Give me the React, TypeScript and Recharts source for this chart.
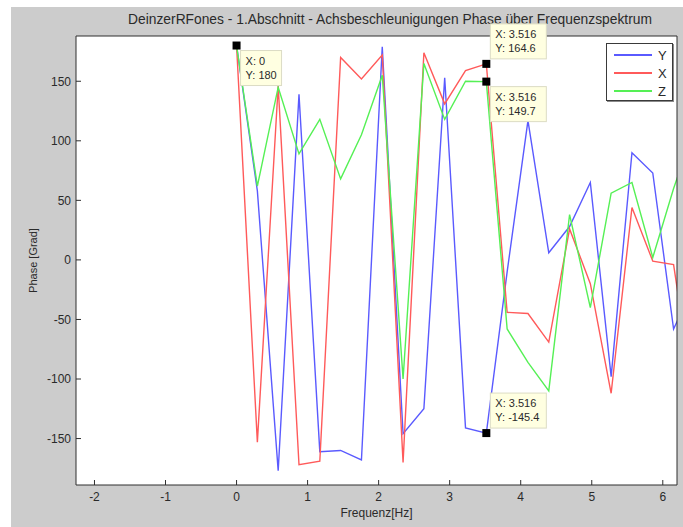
import React from 'react';
import {
    LineChart,
    Line,
    XAxis,
    YAxis,
    CartesianGrid,
    Legend,
    ReferenceDot
} from 'recharts';

// frequency bins [Hz]
const freq = [0, 0.293, 0.586, 0.879, 1.172, 1.465, 1.758, 2.051, 2.344, 2.637, 2.93, 3.223, 3.516, 3.809, 4.102, 4.395, 4.688, 4.98, 5.273, 5.566, 5.859, 6.152, 6.445];

// phase [Grad] per axis
const phaseY = [180, 58, -177, 139, -161, -160, -168, 179, -146, -125, 153, -141, -145.4, -10, 117, 6, 28, 65, -98, 90, 73, -58, -20];
const phaseX = [180, -153, 146, -172, -169, 170, 152, 172, -170, 174, 131, 159, 164.6, -44, -45, -69, 26, -20, -112, 44, -1, -4, -120];
const phaseZ = [180, 62, 145, 89, 118, 68, 105, 155, -100, 165, 118, 150, 149.7, -58, -86, -110, 38, -40, 56, 65, 2, 60, 110];

const seriesNames = ['Y', 'X', 'Z'];
const seriesColors = ['#5a5aff', '#ff5a5a', '#55f055'];

const xTicks = [-2, -1, 0, 1, 2, 3, 4, 5, 6];
const yTicks = [-150, -100, -50, 0, 50, 100, 150];

// data cursors
const tipX = [0, 3.516, 3.516, 3.516];
const tipY = [180, 164.6, 149.7, -145.4];
const tipSide = ['below', 'above', 'below', 'above'];

const data = freq.map((f, i) => ({ f, Y: phaseY[i], X: phaseX[i], Z: phaseZ[i] }));

const FONT = '"Liberation Sans", Arial, sans-serif';
const TEXT = '#2a2a2a';
const AXIS = '#2f2f2f';

const DataTip = (props: any) => {
    const { cx, cy, tx, ty, side } = props;
    const bx = cx + 4;
    const by = side === 'above' ? cy - 40 : cy + 5;
    const xs = tx === 0 ? '0' : String(tx);
    return (
        <g>
            <rect x={bx} y={by} width={side === 'below' && tx === 0 ? 41 : 56} height={35} fill="#ffffe1" stroke="#dcdcc4" />
            <text x={bx + 5} y={by + 14} fontSize={11} fontFamily={FONT} fill={TEXT}>{`X: ${xs}`}</text>
            <text x={bx + 5} y={by + 28} fontSize={11} fontFamily={FONT} fill={TEXT}>{`Y: ${ty}`}</text>
            <rect x={cx - 4} y={cy - 4} width={8} height={8} fill="#000" />
        </g>
    );
};

const LegendBox = ({ payload }: any) => {
    const items = [...(payload || [])].sort((a: any, b: any) => seriesNames.indexOf(a.value) - seriesNames.indexOf(b.value));
    return (
        <div style={{
            width: 67, height: 58, background: '#fff', border: '1px solid #3a3a3a',
            boxShadow: '1px 1px 0 #8a8a8a', boxSizing: 'border-box', paddingTop: 2
        }}>
            {items.map((p: any) => (
                <div key={p.value} style={{ display: 'flex', alignItems: 'center', height: 18 }}>
                    <div style={{ width: 38, height: 2, background: p.color, marginLeft: 7, marginRight: 6 }} />
                    <span style={{ fontFamily: FONT, fontSize: 13, color: TEXT }}>{p.value}</span>
                </div>
            ))}
        </div>
    );
};

const YLabel = ({ viewBox }: any) => {
    const x = viewBox.x + 17;
    const y = viewBox.y + viewBox.height / 2;
    return (
        <text x={x} y={y} transform={`rotate(-90 ${x} ${y})`} textAnchor="middle" dominantBaseline="central"
            fontSize={11} fontFamily={FONT} fill={TEXT}>Phase [Grad]</text>
    );
};

export default function App() {
    return (
        <div style={{ position: 'absolute', left: 0, top: 0, width: 683, height: 527, background: '#fff', overflow: 'hidden' }}>
            <div style={{ position: 'absolute', left: 11, top: 7, width: 672, height: 520, background: '#cccccc' }} />
            <div style={{
                position: 'absolute', left: 0, top: 12, width: 780, textAlign: 'center',
                fontFamily: FONT, fontSize: 13.8, color: TEXT
            }}>
                DeinzerRFones - 1.Abschnitt - Achsbeschleunigungen Phase über Frequenzspektrum
            </div>
            <div style={{ position: 'absolute', left: 0, top: 0 }}>
                <LineChart width={683} height={527} data={data} margin={{ top: 36, right: 6, bottom: 2, left: 16 }}>
                    <CartesianGrid fill="#fff" horizontal={false} vertical={false} />
                    <XAxis
                        dataKey="f"
                        type="number"
                        domain={[-2.26, 6.2]}
                        ticks={xTicks}
                        allowDataOverflow
                        height={40}
                        stroke={AXIS}
                        tickSize={-5}
                        tickMargin={12}
                        tick={{ fill: TEXT, fontSize: 12, fontFamily: FONT }}
                        label={{ value: 'Frequenz[Hz]', position: 'insideBottom', offset: 8, fill: TEXT, fontSize: 12, fontFamily: FONT }}
                    />
                    <XAxis xAxisId="top" orientation="top" dataKey="f" type="number" domain={[-2.26, 6.2]}
                        ticks={xTicks} allowDataOverflow mirror height={1} tick={false} tickSize={5} stroke={AXIS} />
                    <YAxis
                        type="number"
                        domain={[-189, 188]}
                        ticks={yTicks}
                        allowDataOverflow
                        width={60}
                        stroke={AXIS}
                        tickSize={-5}
                        tickMargin={10}
                        tick={{ fill: TEXT, fontSize: 12, fontFamily: FONT }}
                        label={<YLabel />}
                    />
                    <YAxis yAxisId="right" orientation="right" type="number" domain={[-189, 188]}
                        ticks={yTicks} allowDataOverflow mirror width={1} tick={false} tickSize={5} stroke={AXIS} />
                    <Legend layout="vertical" align="center" verticalAlign="middle" content={<LegendBox />}
                        wrapperStyle={{ left: 606, top: 43, width: 67 }} />
                    {seriesNames.map((s, i) => (
                        <Line key={s} type="linear" dataKey={s} name={s} stroke={seriesColors[i]} strokeWidth={1.4}
                            dot={false} isAnimationActive={false} />
                    ))}
                    {tipX.map((tx, i) => (
                        <ReferenceDot key={i} x={tx} y={tipY[i]} ifOverflow="visible"
                            shape={(p: any) => <DataTip {...p} tx={tx} ty={tipY[i]} side={tipSide[i]} />} />
                    ))}
                </LineChart>
            </div>
        </div>
    );
}
